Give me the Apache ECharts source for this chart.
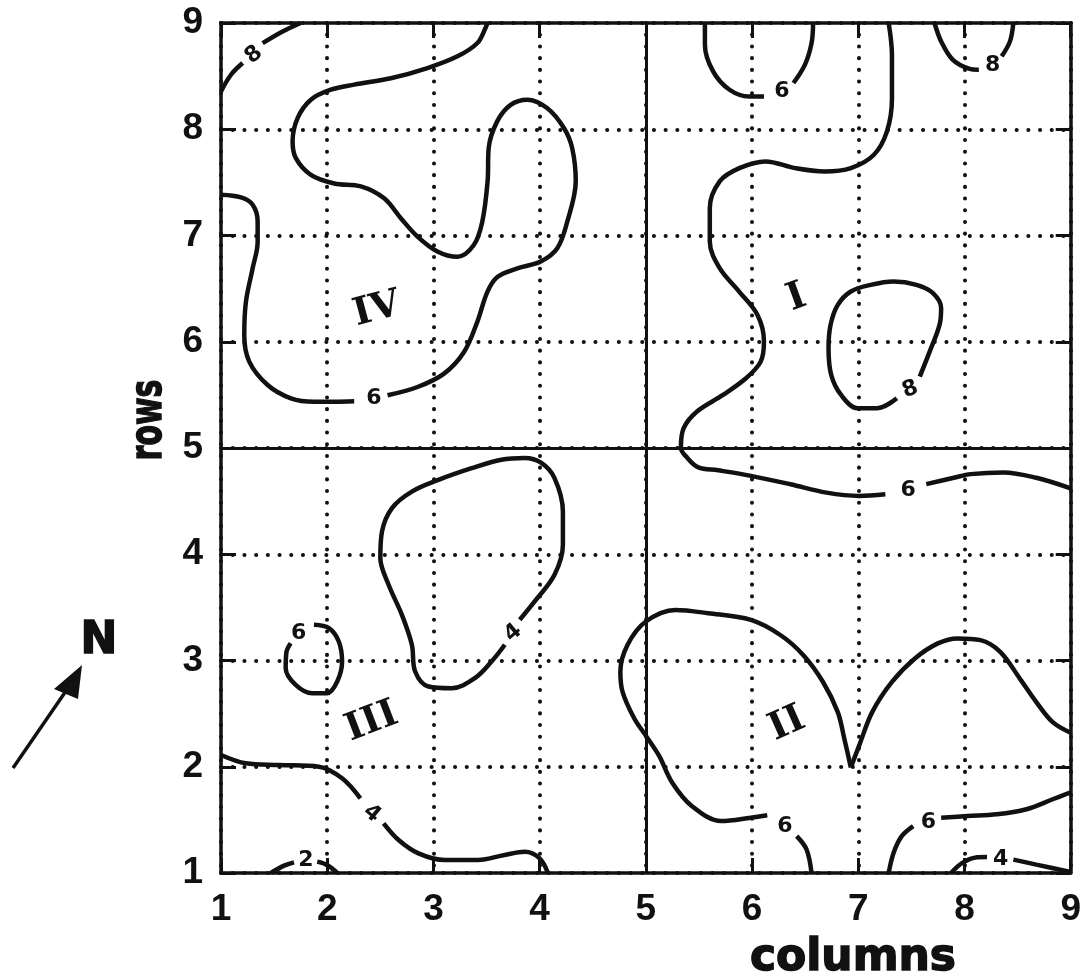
<!DOCTYPE html>
<html>
<head>
<meta charset="utf-8">
<script src="https://cdn.jsdelivr.net/npm/echarts@6/dist/echarts.min.js"></script>
<style>html,body{margin:0;padding:0;background:#fff;}#chart{width:1084px;height:974px;}</style>
</head>
<body>
<div id="chart"></div>
<script>
// ---- data (in column/row units) ----
const xTicks = [1, 2, 3, 4, 5, 6, 7, 8, 9];
const yTicks = [1, 2, 3, 4, 5, 6, 7, 8, 9];
const quadrantDividers = [5];

const c8NW_a = [[1,8.356],[1.094,8.513],[1.204,8.623]];
const c8NW_b = [[1.392,8.81],[1.58,8.92],[1.75,9]];
const c6IV_a = [[1,7.383],[1.188,7.358],[1.298,7.289],[1.345,7.132],[1.345,6.94],[1.298,6.692],[1.235,6.378],[1.219,6.064],[1.266,5.813],[1.439,5.593],[1.658,5.468],[1.878,5.436],[2.066,5.436],[2.254,5.44]];
const c6IV_b = [[2.568,5.496],[2.85,5.574],[3.10,5.70],[3.288,5.904],[3.414,6.19],[3.508,6.47],[3.602,6.61],[3.79,6.69],[4.01,6.755],[4.166,6.88],[4.26,7.13],[4.34,7.51],[4.307,7.82],[4.23,8.01],[4.07,8.20],[3.884,8.278],[3.727,8.23],[3.60,8.074],[3.52,7.82],[3.51,7.51],[3.46,7.13],[3.38,6.91],[3.226,6.80],[3.037,6.85],[2.85,6.99],[2.693,7.163],[2.536,7.35],[2.317,7.462],[2.066,7.49],[1.846,7.571],[1.705,7.728],[1.674,7.885],[1.721,8.105],[1.846,8.278],[2.034,8.372],[2.254,8.42],[2.599,8.48],[2.944,8.576],[3.226,8.686],[3.414,8.812],[3.49,8.953],[3.508,9]];
const c6Itop_a = [[5.556,9],[5.556,8.796],[5.633,8.545],[5.788,8.372],[5.973,8.309],[6.112,8.309]];
const c6Itop_b = [[6.39,8.435],[6.498,8.608],[6.56,8.81],[6.575,9]];
const c6I_a = [[7.286,9],[7.317,8.70],[7.317,8.29],[7.27,7.98],[7.147,7.76],[6.93,7.634],[6.683,7.603],[6.405,7.634],[6.127,7.697],[5.88,7.634],[5.695,7.509],[5.602,7.257],[5.602,6.943],[5.695,6.692],[5.88,6.47],[6.05,6.253],[6.112,6.002],[6.081,5.813],[5.942,5.656],[5.726,5.499],[5.479,5.342],[5.355,5.185],[5.33,5.0],[5.386,4.912],[5.494,4.817],[5.68,4.79],[5.988,4.738],[6.36,4.659],[6.70,4.58],[7.008,4.549],[7.255,4.565]];
const c6I_b = [[7.64,4.66],[7.90,4.72],[8.058,4.754],[8.367,4.77],[8.676,4.72],[9,4.62]];
const c8NE_a = [[7.718,9],[7.78,8.827],[7.888,8.655],[8.042,8.57],[8.135,8.56]];
const c8NE_b = [[8.35,8.686],[8.428,8.827],[8.46,9]];
const c8Iloop = [[7.579,5.672],[7.672,5.907],[7.765,6.159],[7.78,6.316],[7.703,6.457],[7.548,6.535],[7.332,6.567],[7.116,6.535],[6.93,6.473],[6.807,6.347],[6.739,6.159],[6.72,5.939],[6.745,5.688],[6.838,5.499],[6.992,5.374],[7.178,5.374],[7.363,5.468]];
const c4IIIloop = [[3.8125,3.383],[3.953,3.556],[4.14,3.807],[4.219,4.09],[4.219,4.403],[4.14,4.717],[4.016,4.859],[3.86,4.906],[3.64,4.89],[3.36,4.81],[3.047,4.70],[2.797,4.59],[2.61,4.435],[2.516,4.215],[2.50,3.964],[2.578,3.713],[2.703,3.43],[2.797,3.148],[2.828,2.896],[2.953,2.755],[3.172,2.739],[3.39,2.834],[3.547,2.99],[3.672,3.148]];
const c6IIIloop = [[1.875,3.336],[2.016,3.305],[2.109,3.179],[2.14,2.99],[2.094,2.802],[2.0,2.692],[1.86,2.692],[1.703,2.771],[1.609,2.928],[1.616,3.079],[1.656,3.163]];
const c4SW_a = [[1,2.111],[1.234,2.033],[1.547,2.017],[1.922,2.001],[2.14,1.892],[2.3125,1.703]];
const c4SW_b = [[2.531,1.468],[2.672,1.311],[2.859,1.185],[3.109,1.122],[3.42,1.122],[3.67,1.17],[3.86,1.20],[4.0,1.138],[4.078,1.0]];
const c2_a = [[1.469,1],[1.594,1.069],[1.6875,1.10]];
const c2_b = [[1.906,1.107],[2.0,1.075],[2.094,1.0]];
const c6II_a = [[6.56,1.0],[6.513,1.221],[6.42,1.347]];
const c6II_b = [[6.143,1.543],[5.988,1.52],[5.71,1.489],[5.432,1.631],[5.247,1.852],[5.124,2.104],[5.0,2.293],[4.89,2.457],[4.78,2.708],[4.76,2.896],[4.828,3.148],[5.0,3.367],[5.278,3.476],[5.587,3.445],[5.988,3.382],[6.266,3.24],[6.483,3.05],[6.668,2.798],[6.807,2.514],[6.869,2.262],[6.93,1.994]];
const c6II_c = [[6.93,1.994],[7.008,2.199],[7.131,2.514],[7.317,2.798],[7.533,3.019],[7.749,3.161],[7.934,3.208],[8.151,3.192],[8.336,3.082],[8.521,2.83],[8.676,2.609],[8.83,2.42],[9,2.32]];
const c6SE_a = [[7.286,1.0],[7.332,1.189],[7.409,1.347],[7.517,1.442]];
const c6SE_b = [[7.78,1.52],[8.027,1.536],[8.305,1.552],[8.583,1.60],[8.83,1.694],[9,1.76]];
const c4SE_a = [[7.873,1.0],[7.98,1.095],[8.12,1.148],[8.212,1.151]];
const c4SE_b = [[8.46,1.126],[8.676,1.079],[9,1.01]];

const contourLabels = [
  ['8', 1.31, 8.70], ['6', 2.44, 5.47], ['6', 6.28, 8.36], ['8', 8.265, 8.60],
  ['8', 7.49, 5.55], ['6', 7.47, 4.60], ['4', 3.75, 3.26], ['6', 1.73, 3.26],
  ['4', 2.42, 1.56], ['2', 1.80, 1.12], ['6', 6.31, 1.44], ['6', 7.66, 1.48], ['4', 8.34, 1.13]
];
const regionLabels = [['I', 6.42, 6.41], ['II', 6.33, 2.40], ['III', 2.42, 2.42], ['IV', 2.47, 6.30]];

// ---- styles ----
const contourRotate = [40, 0, 0, 0, 20, 0, 40, 0, -40, 0, 0, 0, 0];
const regionRotate = [20, 24, 21, 15];
const INK = '#111';

const contours = [c8NW_a, c8NW_b, c6IV_a, c6IV_b, c6Itop_a, c6Itop_b, c6I_a, c6I_b, c8NE_a, c8NE_b,
  c8Iloop, c4IIIloop, c6IIIloop, c4SW_a, c4SW_b, c2_a, c2_b, c6II_a, c6II_b, c6II_c, c6SE_a, c6SE_b, c4SE_a, c4SE_b];

const series = contours.map(d => ({
  type: 'line', data: d, smooth: 0.35, showSymbol: false, silent: true,
  lineStyle: { color: INK, width: 4.5 }, z: 4
}));
series.push({
  type: 'line', data: [], silent: true,
  markLine: {
    silent: true, symbol: 'none', label: { show: false },
    lineStyle: { color: INK, width: 3, type: 'solid' },
    data: quadrantDividers.map(v => ({ xAxis: v })).concat(quadrantDividers.map(v => ({ yAxis: v })))
  }
});
series.push({
  type: 'scatter', symbolSize: 1, itemStyle: { color: '#fff', opacity: 1 }, silent: true, z: 5,
  data: contourLabels.map((l, i) => ({ name: l[0], value: [l[1], l[2]], label: { rotate: contourRotate[i] } })),
  label: { show: true, position: 'inside', formatter: p => p.name, color: INK, opacity: 1, textBorderWidth: 0, fontSize: 22, fontWeight: 'bold', fontFamily: 'DejaVu Sans' }
});
series.push({
  type: 'scatter', symbolSize: 1, itemStyle: { color: '#fff', opacity: 1 }, silent: true, z: 5,
  data: regionLabels.map((l, i) => ({ name: l[0], value: [l[1], l[2]], label: { rotate: regionRotate[i] } })),
  label: { show: true, position: 'inside', formatter: p => p.name, color: INK, opacity: 1, textBorderWidth: 0, fontSize: 38, fontWeight: 'bold', fontFamily: 'DejaVu Serif' }
});

const tickFont = { color: INK, fontSize: 37, fontWeight: 'bold', fontFamily: 'Liberation Sans', margin: 18 };
const baseAxis = {
  type: 'value', min: xTicks[0], max: xTicks[xTicks.length - 1], interval: 1,
  axisLine: { show: true, lineStyle: { color: INK, width: 3.5 } },
  axisTick: { show: true, inside: true, length: 15, lineStyle: { color: INK, width: 3 } }
};
const dotted = { show: true, lineStyle: { color: INK, width: 4, type: [0.1, 11.6], cap: 'round' } };

const chart = echarts.init(document.getElementById('chart'));
chart.setOption({
  animation: false,
  backgroundColor: '#fff',
  grid: { left: 221, right: 3, top: 23, bottom: 101, show: false },
  xAxis: [
    Object.assign({}, baseAxis, { position: 'bottom', axisLabel: tickFont, splitLine: dotted }),
    Object.assign({}, baseAxis, { position: 'top', axisLabel: { show: false }, splitLine: { show: false } })
  ],
  yAxis: [
    Object.assign({}, baseAxis, { min: yTicks[0], max: yTicks[yTicks.length - 1], position: 'left', axisLabel: tickFont, splitLine: dotted }),
    Object.assign({}, baseAxis, { min: yTicks[0], max: yTicks[yTicks.length - 1], position: 'right', axisLabel: { show: false }, splitLine: { show: false } })
  ],
  series: series,
  graphic: [
    { type: 'text', x: 853, y: 959, style: { text: 'columns', fill: INK, font: 'bold 44px "DejaVu Sans"', align: 'center', verticalAlign: 'middle', stroke: INK, lineWidth: 1.5 } },
    { type: 'text', x: 150, y: 420, rotation: Math.PI / 2, scaleX: 0.68, style: { text: 'rows', fill: INK, font: 'bold 44px "DejaVu Sans"', align: 'center', verticalAlign: 'middle', stroke: INK, lineWidth: 1.5 } },
    { type: 'text', x: 99, y: 642, style: { text: 'N', fill: INK, font: 'bold 44px "DejaVu Sans"', align: 'center', verticalAlign: 'middle', stroke: INK, lineWidth: 1.5 } },
    { type: 'line', shape: { x1: 13, y1: 768, x2: 68, y2: 688 }, style: { stroke: INK, lineWidth: 3.5 } },
    { type: 'polygon', shape: { points: [[82, 665], [54, 689], [78, 699]] }, style: { fill: INK } }
  ]
});
</script>
</body>
</html>
